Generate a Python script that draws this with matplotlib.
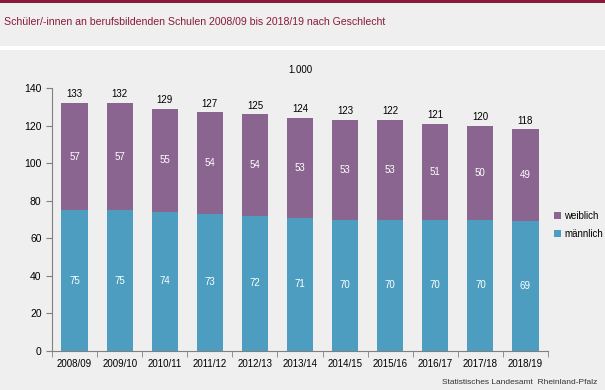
import matplotlib
matplotlib.use("Agg")
import matplotlib.pyplot as plt
from matplotlib.patches import Rectangle

plt.rcParams['font.family'] = ['Liberation Sans', 'DejaVu Sans']

categories = ["2008/09", "2009/10", "2010/11", "2011/12", "2012/13", "2013/14",
              "2014/15", "2015/16", "2016/17", "2017/18", "2018/19"]
maennlich = [75, 75, 74, 73, 72, 71, 70, 70, 70, 70, 69]
weiblich = [57, 57, 55, 54, 54, 53, 53, 53, 51, 50, 49]
totals = [133, 132, 129, 127, 125, 124, 123, 122, 121, 120, 118]

c_w = "#8a6590"
c_m = "#4c9dc0"
bg = "#eeefee"
maroon = "#8b1a3a"

fig = plt.figure(figsize=(6.05, 3.9), dpi=100)
fig.patch.set_facecolor("white")
# background bands
fig.patches.append(Rectangle((0, 1 - 46/390), 1, 46/390, transform=fig.transFigure,
                             facecolor=bg, edgecolor="none", zorder=-5))
fig.patches.append(Rectangle((0, 0), 1, 1 - 50/390, transform=fig.transFigure,
                             facecolor=bg, edgecolor="none", zorder=-5))
fig.patches.append(Rectangle((0, 1 - 3/390), 1, 3/390, transform=fig.transFigure,
                             facecolor=maroon, edgecolor="none", zorder=-4))

fig.text(4/605, 1 - 22/390, "Schüler/-innen an berufsbildenden Schulen 2008/09 bis 2018/19 nach Geschlecht",
         color=maroon, fontsize=7.6, va="center", ha="left")

ax = fig.add_axes([52/605, 1 - 351/390, 496/605, 263/390])
ax.set_zorder(2)
ax.set_facecolor("none")
x = list(range(len(categories)))
w = 0.58
ax.bar(x, maennlich, width=w, color=c_m, label="männlich", zorder=2)
ax.bar(x, weiblich, width=w, bottom=maennlich, color=c_w, label="weiblich", zorder=2)

for i in x:
    ax.text(i, maennlich[i] / 2, str(maennlich[i]), color="white", ha="center", va="center", fontsize=7)
    ax.text(i, maennlich[i] + weiblich[i] / 2, str(weiblich[i]), color="white", ha="center", va="center", fontsize=7)
    ax.text(i, maennlich[i] + weiblich[i] + 2, str(totals[i]), color="black", ha="center", va="bottom", fontsize=7)

ax.set_xlim(-0.5, len(categories) - 0.5)
ax.set_ylim(0, 140)
ax.set_yticks(range(0, 141, 20))
ax.set_xticks(x)
ax.set_xticklabels(categories, fontsize=7)
ax.set_xticks([i - 0.5 for i in range(len(categories) + 1)], minor=True)
ax.tick_params(axis="x", which="major", length=0, pad=6)
ax.tick_params(axis="x", which="minor", length=4, color="#808080", direction="out")
ax.tick_params(axis="y", length=4, color="#808080", labelsize=7.5, direction="out")
for s in ["top", "right"]:
    ax.spines[s].set_visible(False)
for s in ["left", "bottom"]:
    ax.spines[s].set_color("#808080")

fig.text(300/605, 1 - 70/390, "1.000", fontsize=7, ha="center", va="center")

h, l = ax.get_legend_handles_labels()
leg = fig.legend(h[::-1], l[::-1], loc="center left", bbox_to_anchor=(545/605, 1 - 225/390),
                 frameon=False, fontsize=7, handlelength=0.7, handleheight=0.7,
                 handletextpad=0.4, labelspacing=0.8)

fig.text(597/605, 1 - 382/390, "Statistisches Landesamt  Rheinland-Pfalz", fontsize=6,
         ha="right", va="center", color="#333333")

fig.savefig("out.png", dpi=100, facecolor=fig.get_facecolor())
